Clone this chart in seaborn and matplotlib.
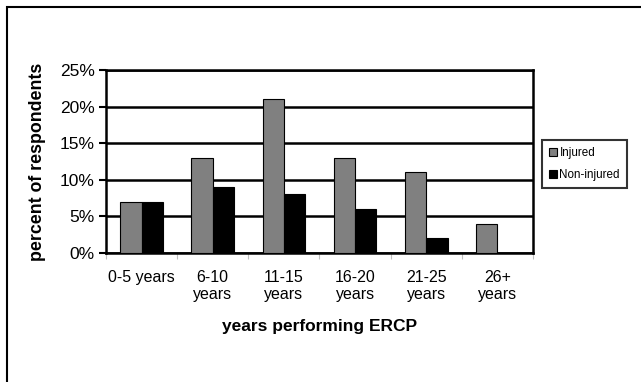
import pandas as pd
import numpy as np
import matplotlib
matplotlib.use('Agg')
import matplotlib.pyplot as plt
import seaborn as sns
from matplotlib.patches import Rectangle
from matplotlib.ticker import FuncFormatter, FixedLocator

categories = ['0-5 years', '6-10\nyears', '11-15\nyears', '16-20\nyears', '21-25\nyears', '26+\nyears']
injured = [7, 13, 21, 13, 11, 4]
non_injured = [7, 9, 8, 6, 2, 0]
groups = ['Injured', 'Non-injured']

df = pd.DataFrame({
    'cat': categories * 2,
    'group': [groups[0]] * len(categories) + [groups[1]] * len(categories),
    'pct': injured + non_injured,
})

sns.set_style('white')
plt.rcParams['font.family'] = ['Liberation Sans', 'DejaVu Sans']
plt.rcParams['text.color'] = 'black'
plt.rcParams['axes.labelcolor'] = 'black'
plt.rcParams['xtick.color'] = 'black'
plt.rcParams['ytick.color'] = 'black'

fig = plt.figure(figsize=(6.41, 3.82), dpi=100)
ax = fig.add_axes([106 / 641, 1 - 253 / 382, (533 - 106) / 641, (253 - 70) / 382])

sns.barplot(data=df, x='cat', y='pct', hue='group', palette=['#808080', '#000000'],
            width=0.6, edgecolor='black', linewidth=0.8, ax=ax, zorder=3)

ax.set_ylim(0, 25)
ax.set_xlim(-0.5, 5.5)
ax.set_yticks([0, 5, 10, 15, 20, 25])
ax.yaxis.set_major_formatter(FuncFormatter(lambda v, p: f'{int(v)}%'))
ax.yaxis.grid(True, color='black', linewidth=1.8, zorder=0)
ax.set_axisbelow(True)
for s in ax.spines.values():
    s.set_visible(True)
    s.set_color('black')
    s.set_linewidth(1.8)

ax.tick_params(axis='y', labelsize=12.5, length=5, width=1.5, left=True, pad=3)
ax.tick_params(axis='x', which='major', labelsize=11.5, length=0, pad=12)
ax.xaxis.set_minor_locator(FixedLocator(np.arange(-0.5, 6, 1)))
ax.tick_params(axis='x', which='minor', length=4, color='#c0c0c0', width=0.8, direction='out', bottom=True)

ax.set_xlabel('years performing ERCP', fontsize=12.5, fontweight='bold', labelpad=12)
ax.set_ylabel('percent of respondents', fontsize=12.8, fontweight='bold', labelpad=10)

leg = ax.legend(loc='center left', bbox_to_anchor=(542 / 641, 1 - 164 / 382),
                bbox_transform=fig.transFigure, frameon=True, fancybox=False,
                fontsize=8.4, handlelength=0.7, handleheight=0.7, handletextpad=0.2,
                borderpad=0.6, labelspacing=0.9, borderaxespad=0)
leg.get_frame().set_edgecolor('black')
leg.get_frame().set_linewidth(1.5)
leg.set_title(None)

fig.patches.append(Rectangle((7 / 641, -0.1), 1.2, 1 - 7.5 / 382 + 0.1,
                             transform=fig.transFigure, fill=False,
                             edgecolor='black', linewidth=1.5))

fig.savefig('out.png', dpi=100)
